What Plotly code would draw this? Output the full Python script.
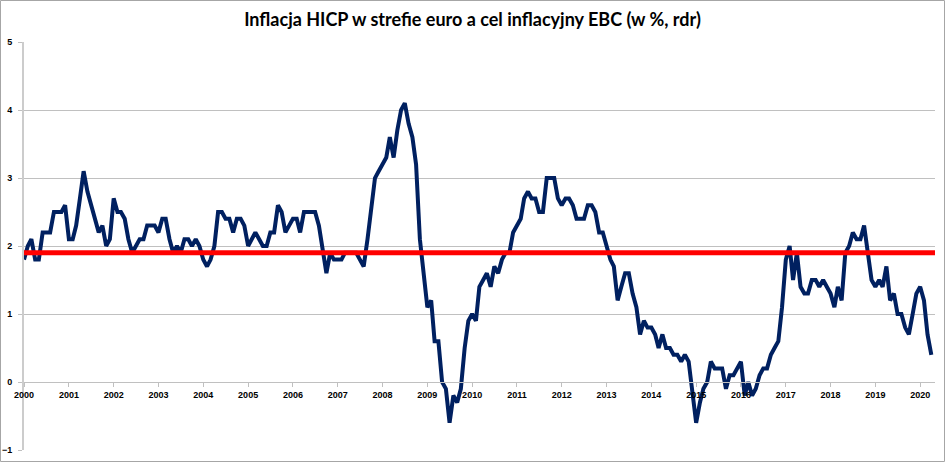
import pandas as pd
import plotly.graph_objects as go

# HICP euro area, y/y %, monthly from Jan 2000
hicp_2000 = [1.8, 2.0, 2.1, 1.8, 1.8, 2.2, 2.2, 2.2, 2.5, 2.5, 2.5, 2.6]
hicp_2001 = [2.1, 2.1, 2.3, 2.7, 3.1, 2.8, 2.6, 2.4, 2.2, 2.3, 2.0, 2.1]
hicp_2002 = [2.7, 2.5, 2.5, 2.4, 2.1, 1.9, 2.0, 2.1, 2.1, 2.3, 2.3, 2.3]
hicp_2003 = [2.2, 2.4, 2.4, 2.1, 1.9, 2.0, 1.9, 2.1, 2.1, 2.0, 2.1, 2.0]
hicp_2004 = [1.8, 1.7, 1.8, 2.0, 2.5, 2.5, 2.4, 2.4, 2.2, 2.4, 2.4, 2.3]
hicp_2005 = [2.0, 2.1, 2.2, 2.1, 2.0, 2.0, 2.2, 2.2, 2.6, 2.5, 2.2, 2.3]
hicp_2006 = [2.4, 2.4, 2.2, 2.5, 2.5, 2.5, 2.5, 2.3, 1.9, 1.6, 1.9, 1.8]
hicp_2007 = [1.8, 1.8, 1.9, 1.9, 1.9, 1.9, 1.8, 1.7, 2.1, 2.6, 3.0, 3.1]
hicp_2008 = [3.2, 3.3, 3.6, 3.3, 3.7, 4.0, 4.1, 3.8, 3.6, 3.2, 2.1, 1.6]
hicp_2009 = [1.1, 1.2, 0.6, 0.6, 0.0, -0.1, -0.6, -0.2, -0.3, -0.1, 0.5, 0.9]
hicp_2010 = [1.0, 0.9, 1.4, 1.5, 1.6, 1.4, 1.7, 1.6, 1.8, 1.9, 1.9, 2.2]
hicp_2011 = [2.3, 2.4, 2.7, 2.8, 2.7, 2.7, 2.5, 2.5, 3.0, 3.0, 3.0, 2.7]
hicp_2012 = [2.6, 2.7, 2.7, 2.6, 2.4, 2.4, 2.4, 2.6, 2.6, 2.5, 2.2, 2.2]
hicp_2013 = [2.0, 1.8, 1.7, 1.2, 1.4, 1.6, 1.6, 1.3, 1.1, 0.7, 0.9, 0.8]
hicp_2014 = [0.8, 0.7, 0.5, 0.7, 0.5, 0.5, 0.4, 0.4, 0.3, 0.4, 0.3, -0.2]
hicp_2015 = [-0.6, -0.3, -0.1, 0.0, 0.3, 0.2, 0.2, 0.2, -0.1, 0.1, 0.1, 0.2]
hicp_2016 = [0.3, -0.2, 0.0, -0.2, -0.1, 0.1, 0.2, 0.2, 0.4, 0.5, 0.6, 1.1]
hicp_2017 = [1.8, 2.0, 1.5, 1.9, 1.4, 1.3, 1.3, 1.5, 1.5, 1.4, 1.5, 1.4]
hicp_2018 = [1.3, 1.1, 1.4, 1.2, 1.9, 2.0, 2.2, 2.1, 2.1, 2.3, 1.9, 1.5]
hicp_2019 = [1.4, 1.5, 1.4, 1.7, 1.2, 1.3, 1.0, 1.0, 0.8, 0.7, 1.0, 1.3]
hicp_2020 = [1.4, 1.2, 0.7, 0.4]

ecb_target = 1.9

y_min, y_max = -1, 5

hicp = (hicp_2000 + hicp_2001 + hicp_2002 + hicp_2003 + hicp_2004 + hicp_2005
        + hicp_2006 + hicp_2007 + hicp_2008 + hicp_2009 + hicp_2010 + hicp_2011
        + hicp_2012 + hicp_2013 + hicp_2014 + hicp_2015 + hicp_2016 + hicp_2017
        + hicp_2018 + hicp_2019 + hicp_2020)
months = pd.date_range("2000-01-01", periods=len(hicp), freq="MS")

W, H = 945, 462
ml, mr, mt, mb = 24, 10, 42, 12

fig = go.Figure()
fig.add_trace(go.Scatter(x=months, y=hicp, mode='lines',
                         line=dict(color='#002060', width=4),
                         hoverinfo='x+y'))

fig.add_hline(y=ecb_target, line=dict(color='#ff0000', width=5))

tick_font = dict(family='Liberation Sans', size=9, color='#000000', weight='bold')
grid_col = '#c0c0c0'

fig.update_layout(
    width=W, height=H,
    margin=dict(l=ml, r=mr, t=mt, b=mb),
    paper_bgcolor='white', plot_bgcolor='white',
    showlegend=False,
    title=dict(text='Inflacja HICP w strefie euro a cel inflacyjny EBC (w %, rdr)',
               x=0.5, xanchor='center', y=1 - 20 / H, yanchor='middle',
               font=dict(family='Lato', size=18, color='#000000', weight='bold')),
    xaxis=dict(type='date', range=['2000-01-01', '2020-05-01'],
               anchor='free', position=(0 - y_min) / (y_max - y_min),
               tickformat='%Y', dtick='M12', tick0='2000-01-01',
               ticks='outside', ticklen=4, tickcolor=grid_col,
               showline=True, linecolor=grid_col, linewidth=1,
               showgrid=False, zeroline=False, tickfont=tick_font,
               automargin=False),
    yaxis=dict(range=[y_min, y_max], dtick=1, tick0=0,
               ticks='outside', ticklen=4, tickcolor=grid_col,
               showline=True, linecolor='#cccccc', linewidth=2,
               showgrid=True, gridcolor=grid_col, gridwidth=1,
               zeroline=False, tickfont=tick_font, ticklabelstandoff=4,
               automargin=False),
)

# thin frame around the whole chart area
pw, ph = W - ml - mr, H - mt - mb
fig.add_shape(type='rect', xref='paper', yref='paper', layer='below',
              x0=-(ml - 0.5) / pw, x1=1 + (mr - 0.5) / pw,
              y0=-(mb - 0.5) / ph, y1=1 + (mt - 0.5) / ph,
              line=dict(color='#a6a6a6', width=1))

fig.write_html("out.html", config={'displayModeBar': False},
               post_script="document.body.style.margin='0';")
